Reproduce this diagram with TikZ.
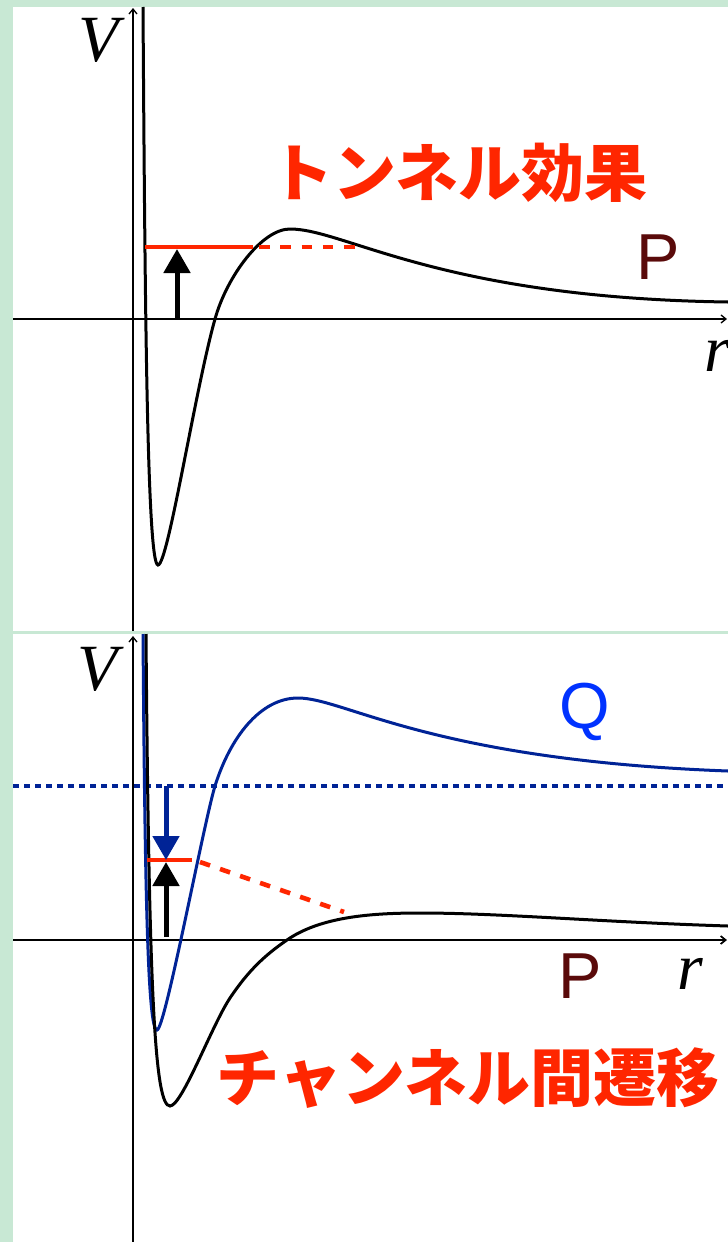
\documentclass[tikz,border=0pt]{standalone}
\usepackage{fontspec}
\setmainfont{Liberation Serif}
\newfontfamily\cjk{Noto Sans CJK JP}
\newfontfamily\lsans{Liberation Sans}
\usetikzlibrary{arrows.meta}
\definecolor{bg}{RGB}{200,232,212}
\definecolor{tred}{RGB}{255,38,0}
\definecolor{navy}{RGB}{0,35,150}
\definecolor{qblue}{RGB}{0,50,255}
\definecolor{pbrown}{RGB}{90,10,10}
\tikzset{
 axis/.style={line width=1.3pt, -{Straight Barb[length=5pt,width=8pt]}},
 curve/.style={line width=3pt},
 level/.style={tred, line width=4.6pt},
 leveldash/.style={tred, line width=4.6pt, dash pattern=on 10.5pt off 10.8pt},
 bigarrow/.style={line width=5pt, -{Triangle[length=24pt,width=26pt]}},
 axlabel/.style={inner sep=0pt, font=\fontsize{66}{66}\selectfont\itshape},
 plabel/.style={inner sep=0pt, font=\lsans\fontsize{65}{65}\selectfont},
 titletext/.style={inner sep=0pt, anchor=base, text=tred, font=\cjk\bfseries\fontsize{63}{63}\selectfont},
}
\begin{document}
\begin{tikzpicture}[x=1pt,y=-1pt]
\useasboundingbox (0,0) rectangle (728,1242);
% background
\fill[bg] (0,0) rectangle (728,1242);
\fill[white] (13,7) rectangle (728,631);
\fill[white] (13,634) rectangle (728,1242);

% ---------- top panel ----------
\coordinate (a1s) at (13,319);
\coordinate (a1e) at (727,319);
\coordinate (v1s) at (133,631);
\coordinate (v1e) at (133,8);
\draw[axis] (a1s) -- (a1e);
\draw[axis] (v1s) -- (v1e);

\draw[curve] (143,7) .. controls (145,300) and (147,565) .. (158,565)
 .. controls (168,565) and (195,390) .. (215,319)
 .. controls (227,276) and (262,229) .. (290,229)
 .. controls (345,229) and (440,298) .. (728,302);

\coordinate (l1a) at (145,247);
\coordinate (l1b) at (253,247);
\coordinate (l1c) at (259,247);
\coordinate (l1d) at (356,247);
\draw[level] (l1a) -- (l1b);
\draw[leveldash] (l1c) -- (l1d);

\coordinate (ar1s) at (177,319);
\coordinate (ar1e) at (177,249);
\draw[bigarrow] (ar1s) -- (ar1e);

\node[axlabel] (V1) at (99,40) {V};
\node[axlabel] (r1) at (717,356) {r};
\node[plabel, text=pbrown] (P1) at (658,257) {P};
\node[titletext] (T1) at (459,196) {トンネル効果};

% ---------- bottom panel ----------
\coordinate (a2s) at (13,940);
\coordinate (a2e) at (727,940);
\coordinate (v2s) at (133,1242);
\coordinate (v2e) at (133,636);
\draw[axis, line width=1.7pt] (a2s) -- (a2e);
\draw[axis] (v2s) -- (v2e);

\coordinate (d1) at (13,786);
\coordinate (d2) at (728,786);
\draw[navy, line width=3.3pt, dash pattern=on 5.5pt off 5.5pt] (d1) -- (d2);

\draw[curve, navy] (143,634) .. controls (145,900) and (148,1030) .. (157,1030)
 .. controls (165,1030) and (203,826) .. (215,786)
 .. controls (230,738) and (260,698) .. (298,698)
 .. controls (345,698) and (430,760) .. (728,771);

\draw[curve] (146,634) .. controls (149,1000) and (155,1106) .. (170,1106)
 .. controls (182,1106) and (212,1025) .. (230,998)
 .. controls (248,971) and (265,955) .. (287,940)
 .. controls (320,917) and (370,913) .. (420,913)
 .. controls (500,913) and (600,922) .. (728,926);

\coordinate (l2a) at (147,860);
\coordinate (l2b) at (192,860);
\coordinate (l2c) at (200,862);
\coordinate (l2d) at (344,912);
\draw[level] (l2a) -- (l2b);
\draw[leveldash, dash pattern=on 10.6pt off 10.6pt] (l2c) -- (l2d);

\coordinate (ar2s) at (166,786);
\coordinate (ar2e) at (166,860);
\draw[bigarrow, navy] (ar2s) -- (ar2e);
\coordinate (ar3s) at (166,937);
\coordinate (ar3e) at (166,862);
\draw[bigarrow] (ar3s) -- (ar3e);

\node[axlabel] (V2) at (98,669) {V};
\node[axlabel] (r2) at (690,974) {r};
\node[plabel, text=qblue] (Q) at (585,712) {Q};
\node[plabel, text=pbrown] (P2) at (580,976) {P};
\node[titletext] (T2) at (468,1101) {チャンネル間遷移};
\end{tikzpicture}
\end{document}
